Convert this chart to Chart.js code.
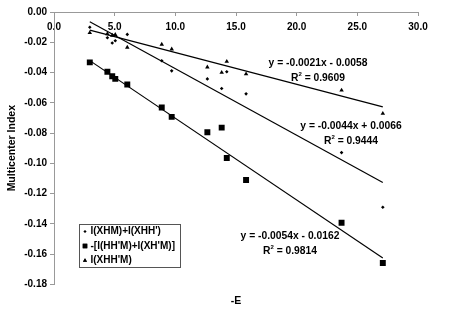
<!DOCTYPE html>
<html><head><meta charset="utf-8">
<script src="https://cdn.jsdelivr.net/npm/chart.js@4/dist/chart.umd.min.js"></script>
<style>html,body{margin:0;padding:0;background:#fff}#wrap{width:450px;height:312px}</style>
</head><body><div id="wrap"><canvas id="c"></canvas></div>
<script>
// ---- data ----
const xValues = [2.95, 4.4, 4.8, 5.05, 6.04, 8.88, 9.7, 12.64, 13.82, 14.24, 15.83, 23.7, 27.1];
const seriesXHM = [-0.0101, -0.0170, -0.0205, -0.0190, -0.0148, -0.0322, -0.0389, -0.0442, -0.0506, -0.0395, -0.0541, -0.0929, -0.1290];
const seriesHHM = [-0.0333, -0.0395, -0.0424, -0.0442, -0.0479, -0.0631, -0.0693, -0.0795, -0.0764, -0.0965, -0.1110, -0.1393, -0.1658];
const seriesXHHM = [-0.0137, -0.0145, -0.0155, -0.0150, -0.0234, -0.0214, -0.0245, -0.0364, -0.0400, -0.0327, -0.0410, -0.0517, -0.0671];
const seriesNames = ["I(XHM)+I(XHH')", "-[I(HH'M)+I(XH'M)]", "I(XHH'M)"];
const trendSlopes = [-0.0044, -0.0054, -0.0021];
const trendIntercepts = [0.0066, -0.0162, -0.0058];
const trendEquations = ["y = -0.0044x + 0.0066", "y = -0.0054x - 0.0162", "y = -0.0021x - 0.0058"];
const trendR2 = ["0.9444", "0.9814", "0.9609"];
const xTickStep = 5, yTickStep = 0.02;

const FONT = "'Liberation Sans', Arial, sans-serif";
const pts = ys => xValues.map((x, i) => ({x, y: ys[i]}));
const xmin = Math.min(...xValues), xmax = Math.max(...xValues);
const trend = k => [{x: xmin, y: trendSlopes[k]*xmin + trendIntercepts[k]}, {x: xmax, y: trendSlopes[k]*xmax + trendIntercepts[k]}];
const styles = [
  {pointStyle: 'rectRot', radius: 1.8},
  {pointStyle: 'rect', radius: 4.2},
  {pointStyle: 'triangle', radius: 2.6}
];
const mk = (label, ys, s) => ({label, data: pts(ys), showLine: false, pointStyle: s.pointStyle, pointRadius: s.radius,
  pointBackgroundColor: '#000', pointBorderColor: '#000', pointBorderWidth: 0, pointHoverRadius: s.radius});
const ln = k => ({label: 'trend' + k, data: trend(k), showLine: true, borderColor: '#000', borderWidth: 1.2, pointRadius: 0, pointHoverRadius: 0, fill: false});

const annotations = [
  {lines: [trendEquations[2], 'R2|' + trendR2[2]], cx: 318, y: 63},
  {lines: [trendEquations[0], 'R2|' + trendR2[0]], cx: 351, y: 126},
  {lines: [trendEquations[1], 'R2|' + trendR2[1]], cx: 290, y: 236}
];

const extras = {
  id: 'extras',
  afterDraw(chart) {
    const ctx = chart.ctx;
    ctx.save();
    ctx.fillStyle = '#000';
    ctx.textBaseline = 'middle';
    const f = 'bold 10.3px ' + FONT, fs = 'bold 6px ' + FONT;
    annotations.forEach(a => {
      ctx.font = f; ctx.textAlign = 'center';
      ctx.fillText(a.lines[0], a.cx, a.y);
      const val = a.lines[1].split('|')[1];
      const p1 = 'R', p3 = ' = ' + val;
      ctx.font = f; const w1 = ctx.measureText(p1).width, w3 = ctx.measureText(p3).width;
      ctx.font = fs; const w2 = ctx.measureText('2').width;
      let x = a.cx - (w1 + w2 + w3) / 2, y = a.y + 15.5;
      ctx.textAlign = 'left';
      ctx.font = f; ctx.fillText(p1, x, y); x += w1;
      ctx.font = fs; ctx.fillText('2', x, y - 4); x += w2;
      ctx.font = f; ctx.fillText(p3, x, y);
    });
    // legend box
    const L = 79.5, T = 224.5, W = 101, H = 43;
    ctx.fillStyle = '#fff'; ctx.fillRect(L, T, W, H);
    ctx.strokeStyle = '#555'; ctx.lineWidth = 1; ctx.strokeRect(L, T, W, H);
    const rows = [231.5, 246, 260.5];
    seriesNames.forEach((name, i) => {
      const s = styles[i];
      Chart.helpers.drawPoint(ctx, {pointStyle: s.pointStyle, radius: i === 1 ? 3.2 : s.radius * 0.9, borderWidth: 0}, 85, rows[i]);
      ctx.fillStyle = '#000'; ctx.fill();
      ctx.font = 'bold 10px ' + FONT; ctx.textAlign = 'left'; ctx.fillStyle = '#000';
      ctx.fillText(name, 90.5, rows[i]);
    });
    ctx.restore();
  }
};

new Chart(document.getElementById('c'), {
  type: 'scatter',
  data: {datasets: [mk(seriesNames[0], seriesXHM, styles[0]), mk(seriesNames[1], seriesHHM, styles[1]), mk(seriesNames[2], seriesXHHM, styles[2]), ln(0), ln(1), ln(2)]},
  options: {
    responsive: true, maintainAspectRatio: false, animation: false,
    layout: {padding: {left: 0, top: 12, right: 32, bottom: 0}},
    plugins: {
      legend: {display: false}, tooltip: {enabled: false},
      title: {display: true, position: 'bottom', fullSize: false, text: '-E', color: '#000',
        font: {family: FONT, size: 10.5, weight: 'bold'}, padding: {top: 10, bottom: 5}}
    },
    scales: {
      x: {type: 'linear', position: {y: 0}, min: 0, max: 30,
        afterFit: s => { s.height = 0; },
        grid: {display: true, drawOnChartArea: false, drawTicks: true, tickLength: 3, color: '#999'},
        border: {display: true, color: '#999', width: 1},
        ticks: {stepSize: xTickStep, padding: 6, color: '#000', font: {family: FONT, size: 10, weight: 'bold'}, callback: v => v.toFixed(1), maxRotation: 0}
      },
      y: {type: 'linear', position: 'left', min: -0.18, max: 0,
        afterFit: s => { s.width = 54; },
        grid: {display: true, drawOnChartArea: false, drawTicks: true, tickLength: 4, color: '#999'},
        border: {display: true, color: '#999', width: 1},
        ticks: {stepSize: yTickStep, padding: 3, color: '#000', font: {family: FONT, size: 10, weight: 'bold'}, callback: v => Math.abs(v) < 1e-9 ? '0.00' : v.toFixed(2)},
        title: {display: true, text: 'Multicenter Index', color: '#000', font: {family: FONT, size: 10.5, weight: 'bold'}, padding: {top: 6, bottom: 2}}
      }
    }
  },
  plugins: [extras]
});
</script>
</body></html>
